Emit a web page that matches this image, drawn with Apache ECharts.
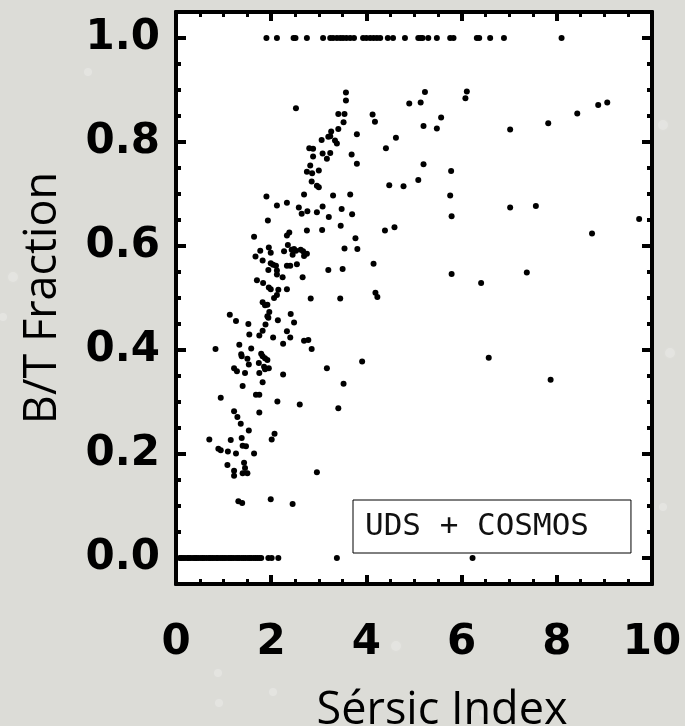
<!DOCTYPE html>
<html>
<head>
<meta charset="utf-8">
<script src="https://cdn.jsdelivr.net/npm/echarts@6/dist/echarts.min.js"></script>
<style>
  html, body { margin: 0; padding: 0; background: #dcdcd7; }
  #chart { width: 685px; height: 726px; }
</style>
</head>
<body>
<div id="chart"></div>
<script>
// Sérsic index of galaxies whose bulge/total ratio is exactly 1 (pure bulge)
const pureBulgeN = [1.90, 2.12, 2.47, 2.51, 2.75, 3.09, 3.24, 3.30, 3.38, 3.45, 3.51, 3.58,
  3.66, 3.74, 3.93, 4.00, 4.08, 4.15, 4.22, 4.29, 4.45, 4.56, 4.81, 5.09, 5.14, 5.18,
  5.30, 5.48, 5.76, 5.83, 6.32, 6.37, 6.60, 6.89, 8.10];

// Sérsic index of galaxies with B/T = 0 (pure disk)
const pureDiskN = [0.08, 0.11, 0.15, 0.19, 0.24, 0.27, 0.31, 0.36, 0.40, 0.43, 0.47, 0.52,
  0.56, 0.59, 0.64, 0.69, 0.72, 0.76, 0.80, 0.85, 0.88, 0.93, 0.97, 1.01, 1.05, 1.10,
  1.14, 1.17, 1.21, 1.26, 1.30, 1.33, 1.38, 1.42, 1.46, 1.51, 1.55, 1.58, 1.63, 1.67,
  1.71, 1.75, 1.79, 1.94, 2.01, 2.15, 3.38, 6.23];

// Two-component galaxies: Sérsic index and B/T fraction
const mixedN = [
  3.57, 3.57, 2.52, 3.41, 3.54, 3.52, 4.13, 4.18, 3.41, 3.26, 3.80, 3.24, 3.20, 3.06, 3.34, 3.38,
  4.62, 4.41, 2.80, 2.88, 2.88, 3.08, 3.24, 3.17, 3.69, 3.80, 2.82, 2.75, 2.86, 3.00, 2.85, 2.96,
  3.00, 4.48, 1.90, 2.69, 3.30, 3.66, 2.12, 2.33, 2.58, 2.64, 2.76, 2.96, 3.08, 3.21, 3.48, 3.70,
  1.93, 2.75, 3.07, 3.46, 4.39, 4.59, 1.64, 2.33, 2.38, 3.77, 1.77, 1.95, 1.99, 2.27, 2.35, 2.43,
  2.48, 2.52, 2.45, 2.62, 2.67, 2.75, 2.69, 3.54, 3.81, 1.67, 1.82, 1.99, 2.04, 2.10, 2.33, 2.40,
  2.54, 1.94, 2.12, 2.12, 2.24, 2.66, 3.20, 3.50, 4.15, 1.70, 1.83, 1.95, 1.99, 2.15, 2.33, 2.12,
  2.06, 4.19, 4.23, 2.83, 3.45, 1.82, 1.87, 1.92, 1.96, 1.92, 1.94, 1.13, 1.26, 1.52, 1.88, 2.14,
  2.41, 2.48, 1.82, 1.54, 1.75, 2.33, 2.40, 2.04, 2.69, 2.78, 1.33, 2.25, 2.85, 0.83, 1.58, 1.37,
  1.38, 1.50, 1.79, 1.82, 1.87, 1.92, 1.74, 1.53, 1.22, 1.28, 1.45, 1.75, 1.85, 1.87, 1.95, 2.25,
  3.17, 3.91, 3.52, 1.40, 1.82, 0.94, 1.68, 1.75, 2.13, 2.60, 3.41, 1.22, 1.29, 1.36, 1.75, 1.53,
  2.07, 2.01, 0.70, 1.15, 1.38, 1.40, 1.47, 0.89, 0.94, 1.09, 1.26, 1.64, 1.08, 1.43, 1.45, 1.22,
  1.22, 1.40, 1.50, 2.96, 1.31, 1.39, 1.99, 2.45, 5.23, 4.90, 5.14, 6.11, 6.08, 5.57, 5.20, 5.48,
  7.02, 7.82, 8.43, 8.87, 9.06, 5.20, 5.78, 5.09, 4.78, 5.76, 5.79, 7.02, 7.56, 9.73, 8.74, 5.79,
  6.41, 7.37, 6.57, 7.87
];
const mixedBT = [
  0.895, 0.880, 0.865, 0.854, 0.854, 0.838, 0.853, 0.839, 0.825, 0.820, 0.815, 0.811, 0.810, 0.804, 0.803, 0.797,
  0.808, 0.788, 0.788, 0.787, 0.772, 0.778, 0.779, 0.768, 0.776, 0.758, 0.755, 0.743, 0.740, 0.745, 0.724, 0.716,
  0.713, 0.717, 0.695, 0.699, 0.697, 0.699, 0.678, 0.683, 0.674, 0.662, 0.667, 0.665, 0.676, 0.656, 0.671, 0.661,
  0.649, 0.630, 0.631, 0.639, 0.630, 0.636, 0.618, 0.620, 0.626, 0.615, 0.591, 0.597, 0.587, 0.590, 0.602, 0.593,
  0.594, 0.591, 0.583, 0.593, 0.590, 0.585, 0.581, 0.595, 0.594, 0.580, 0.572, 0.567, 0.564, 0.562, 0.562, 0.562,
  0.565, 0.554, 0.553, 0.545, 0.540, 0.540, 0.554, 0.556, 0.566, 0.534, 0.529, 0.520, 0.517, 0.516, 0.517, 0.506,
  0.500, 0.510, 0.502, 0.499, 0.499, 0.492, 0.486, 0.487, 0.473, 0.465, 0.462, 0.468, 0.456, 0.450, 0.449, 0.457,
  0.469, 0.453, 0.437, 0.430, 0.428, 0.436, 0.424, 0.424, 0.418, 0.419, 0.410, 0.412, 0.402, 0.402, 0.403, 0.392,
  0.388, 0.383, 0.393, 0.388, 0.384, 0.381, 0.375, 0.372, 0.365, 0.359, 0.356, 0.356, 0.368, 0.363, 0.365, 0.353,
  0.365, 0.378, 0.335, 0.331, 0.338, 0.308, 0.314, 0.314, 0.301, 0.295, 0.288, 0.282, 0.271, 0.258, 0.280, 0.245,
  0.239, 0.228, 0.228, 0.227, 0.231, 0.216, 0.215, 0.210, 0.207, 0.205, 0.201, 0.201, 0.179, 0.183, 0.173, 0.168,
  0.158, 0.163, 0.163, 0.165, 0.109, 0.106, 0.113, 0.104, 0.896, 0.874, 0.876, 0.897, 0.884, 0.847, 0.831, 0.826,
  0.824, 0.836, 0.855, 0.871, 0.876, 0.757, 0.744, 0.727, 0.715, 0.697, 0.657, 0.674, 0.677, 0.652, 0.624, 0.546,
  0.529, 0.549, 0.385, 0.343
];

const yMajorTicks = [0, 0.2, 0.4, 0.6, 0.8, 1.0];
const yMinorTicks = [0.05, 0.1, 0.15, 0.25, 0.3, 0.35, 0.45, 0.5, 0.55, 0.65, 0.7, 0.75, 0.85, 0.9, 0.95];
const sampleName = 'UDS + COSMOS';

const points = pureBulgeN.map(n => [n, 1])
  .concat(pureDiskN.map(n => [n, 0]))
  .concat(mixedN.map((n, i) => [n, mixedBT[i]]));

const chart = echarts.init(document.getElementById('chart'), null, { renderer: 'canvas' });

const frame = { show: true, onZero: false, lineStyle: { color: '#000', width: 4 } };
const labelFont = { fontFamily: 'DejaVu Sans', fontWeight: 'bold', fontSize: 42, color: '#000' };

function yAxisDef(position, ticks, len, withLabels) {
  return {
    type: 'value', position: position, min: -0.05, max: 1.05,
    axisLine: frame,
    axisTick: { show: true, inside: true, length: len, customValues: ticks,
      lineStyle: { color: '#000', width: 4 } },
    axisLabel: withLabels
      ? Object.assign({ show: true, margin: 16, customValues: ticks,
          formatter: v => v.toFixed(1), padding: [10, 0, 0, 0] }, labelFont)
      : { show: false },
    splitLine: { show: false }
  };
}

function xAxisDef(position, withLabels) {
  return {
    type: 'value', position: position, min: 0, max: 10, interval: 2,
    axisLine: frame,
    axisTick: { show: true, inside: true, length: 9, lineStyle: { color: '#000', width: 4 } },
    minorTick: { show: true, splitNumber: 4, length: 5, lineStyle: { color: '#000', width: 3 } },
    axisLabel: withLabels ? Object.assign({ show: true, margin: 38 }, labelFont) : { show: false },
    splitLine: { show: false }
  };
}

// faint specks in the backdrop
const specks = [[663, 125, 5], [670, 353, 5], [663, 507, 4], [88, 72, 4], [13, 277, 5],
  [3, 317, 4], [396, 646, 5], [219, 703, 4], [483, 713, 4], [273, 692, 4], [218, 673, 4]];

const option = {
  animation: false,
  backgroundColor: '#dcdcd7',
  grid: {
    left: 176, right: 33, top: 12, bottom: 142,
    containLabel: false, outerBoundsMode: 'none',
    show: true, backgroundColor: '#ffffff', borderWidth: 0
  },
  xAxis: [
    Object.assign(xAxisDef('bottom', true), {
      name: 'Sérsic Index', nameLocation: 'middle', nameGap: 105,
      nameTextStyle: { fontFamily: 'Open Sans', fontSize: 45, color: '#000', padding: [0, 0, 0, 56] }
    }),
    xAxisDef('top', false)
  ],
  yAxis: [
    Object.assign(yAxisDef('left', yMajorTicks, 10, true), {
      name: 'B/T Fraction', nameLocation: 'middle', nameGap: 110, nameRotate: 90,
      nameTextStyle: { fontFamily: 'Open Sans', fontSize: 45, color: '#000' }
    }),
    yAxisDef('left', yMinorTicks, 5, false),
    yAxisDef('right', yMajorTicks, 10, false),
    yAxisDef('right', yMinorTicks, 5, false)
  ],
  legend: {
    data: [sampleName],
    left: 353, top: 500,
    itemWidth: 0, itemHeight: 0,
    padding: [11, 42, 11, 7],
    borderColor: '#000', borderWidth: 1, backgroundColor: '#ffffff',
    selectedMode: false,
    textStyle: { fontFamily: 'DejaVu Sans Mono', fontSize: 31, color: '#111' }
  },
  graphic: specks.map(s => ({
    type: 'circle', silent: true, z: -1,
    shape: { cx: s[0], cy: s[1], r: s[2] },
    style: { fill: 'rgba(255,255,255,0.22)', shadowBlur: 10, shadowColor: 'rgba(255,255,255,0.6)' }
  })),
  series: [{
    name: sampleName,
    type: 'scatter',
    xAxisIndex: 0, yAxisIndex: 0,
    symbol: 'circle', symbolSize: 6,
    itemStyle: { color: '#000', opacity: 1 },
    data: points
  }]
};

chart.setOption(option);
</script>
</body>
</html>
